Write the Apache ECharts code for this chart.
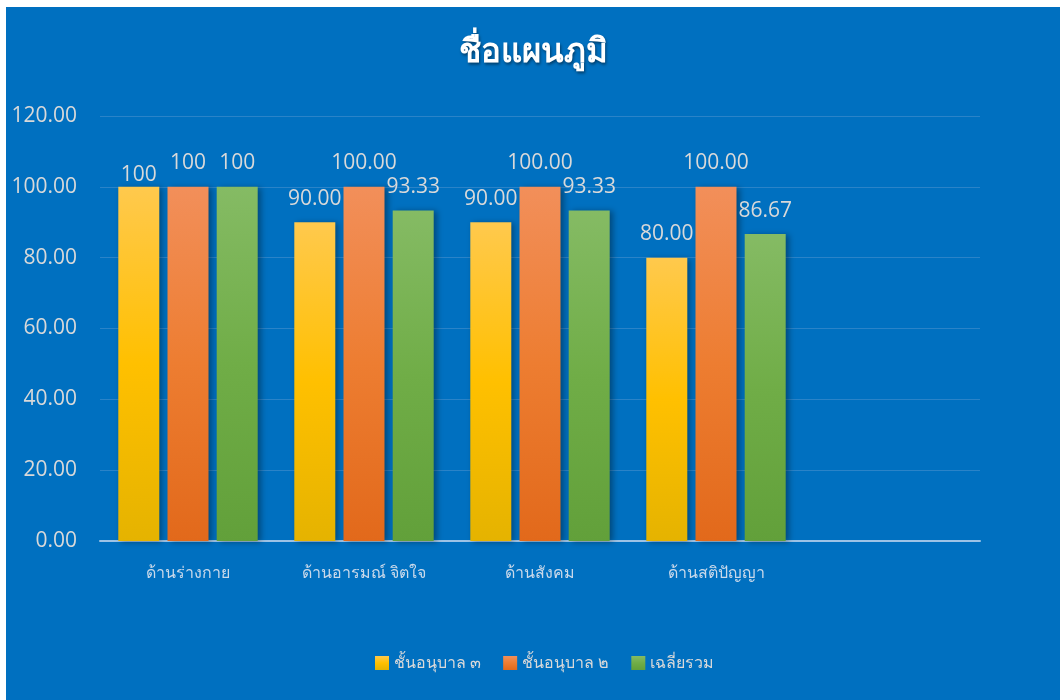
<!DOCTYPE html>
<html>
<head>
<meta charset="utf-8">
<script src="https://cdn.jsdelivr.net/npm/echarts@6/dist/echarts.min.js"></script>
<style>
  html, body { margin: 0; padding: 0; background: #fff; }
  #chart { position: absolute; left: 6px; top: 7px; width: 1054px; height: 693px; }
</style>
</head>
<body>
<div id="chart"></div>
<script>
  // categories (last slot is empty in the original)
  var categories = ['ด้านร่างกาย', 'ด้านอารมณ์ จิตใจ', 'ด้านสังคม', 'ด้านสติปัญญา', '']
  var anuban3 = [100, 90, 90, 80]
  var anuban2 = [100, 100, 100, 100]
  var average = [100, 93.33, 93.33, 86.67]
  // how many decimals each category's label shows
  var labelDecimals = [0, 2, 2, 2]
  var yTicks = { min: 0, max: 120, interval: 20 }

  var FONT = '"Open Sans", "Noto Sans", sans-serif'

  function grad(top, mid, bottom) {
    return new echarts.graphic.LinearGradient(0, 0, 0, 1, [
      { offset: 0, color: top },
      { offset: 0.5, color: mid },
      { offset: 1, color: bottom }
    ])
  }

  function makeData(values, firstDistance) {
    return values.map(function (v, i) {
      var item = { value: v }
      if (i === 0 && firstDistance != null) {
        item.label = { distance: firstDistance }
      }
      return item
    })
  }

  function makeSeries(name, values, color, firstDistance) {
    return {
      name: name,
      type: 'bar',
      barWidth: 41,
      barGap: '20%',
      data: makeData(values, firstDistance),
      itemStyle: {
        color: color,
        shadowColor: 'rgba(0, 0, 0, 0.35)',
        shadowBlur: 6,
        shadowOffsetX: 3,
        shadowOffsetY: 1
      },
      label: {
        show: true,
        position: 'top',
        distance: 13,
        color: '#d9d9d9',
        fontSize: 21,
        fontFamily: FONT,
        formatter: function (p) {
          return p.value.toFixed(labelDecimals[p.dataIndex])
        }
      }
    }
  }

  var chart = echarts.init(document.getElementById('chart'))
  chart.setOption({
    backgroundColor: '#0070C0',
    animation: false,
    title: {
      text: 'ชื่อแผนภูมิ',
      left: 'center',
      top: 24,
      textStyle: {
        color: '#ffffff',
        fontSize: 33,
        fontWeight: 'bold',
        fontFamily: FONT,
        textShadowColor: 'rgba(0, 0, 0, 0.45)',
        textShadowBlur: 3,
        textShadowOffsetX: 1,
        textShadowOffsetY: 2
      }
    },
    legend: {
      bottom: 24,
      left: 364,
      itemWidth: 14,
      itemHeight: 14,
      itemGap: 22,
      icon: 'rect',
      textStyle: {
        color: '#d9d9d9',
        fontSize: 16,
        fontFamily: FONT
      },
      data: ['ชั้นอนุบาล ๓', 'ชั้นอนุบาล ๒', 'เฉลี่ยรวม']
    },
    grid: {
      left: 94,
      right: 80,
      top: 109,
      bottom: 159,
      containLabel: false
    },
    xAxis: {
      type: 'category',
      data: categories,
      axisTick: { show: false },
      axisLine: { lineStyle: { color: '#9dc3e6', width: 2 } },
      axisLabel: {
        color: '#c9d9ea',
        fontSize: 16,
        fontFamily: FONT,
        margin: 24
      }
    },
    yAxis: {
      type: 'value',
      min: yTicks.min,
      max: yTicks.max,
      interval: yTicks.interval,
      axisLine: { show: false },
      axisTick: { show: false },
      splitLine: { lineStyle: { color: '#2a83c8', width: 1 } },
      axisLabel: {
        color: '#d9d9d9',
        fontSize: 21,
        fontFamily: FONT,
        margin: 23,
        formatter: function (v) { return v.toFixed(2) }
      }
    },
    series: [
      makeSeries('ชั้นอนุบาล ๓', anuban3, grad('#ffc94d', '#ffc000', '#e5b300'), 1),
      makeSeries('ชั้นอนุบาล ๒', anuban2, grad('#f28f5a', '#ed7d31', '#e2691b')),
      makeSeries('เฉลี่ยรวม', average, grad('#85bb64', '#70ad47', '#62a03a'))
    ]
  })
</script>
</body>
</html>
